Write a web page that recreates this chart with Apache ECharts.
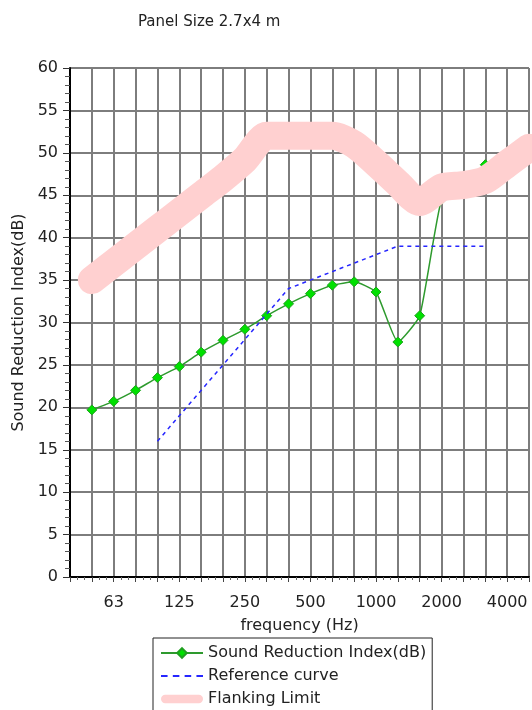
<!DOCTYPE html>
<html>
<head>
<meta charset="utf-8">
<script src="https://cdn.jsdelivr.net/npm/echarts@6/dist/echarts.min.js"></script>
<style>
  html, body { margin: 0; padding: 0; background: #fff; }
  #chart { width: 532px; height: 710px; }
</style>
</head>
<body>
<div id="chart"></div>
<script>
// third-octave bands along the x axis (40 Hz .. 5000 Hz)
const bands = ["40", "50", "63", "80", "100", "125", "160", "200", "250", "315", "400",
  "500", "630", "800", "1000", "1250", "1600", "2000", "2500", "3150", "4000", "5000"];
const tickLabels = ["63", "125", "250", "500", "1000", "2000", "4000"];

// Sound Reduction Index (dB)
const sriFreq = ["50", "63", "80", "100", "125", "160", "200", "250", "315", "400",
  "500", "630", "800", "1000", "1250", "1600", "2000", "2500", "3150"];
const sriValues = [19.7, 20.7, 22.0, 23.5, 24.8, 26.5, 27.9, 29.2, 30.8, 32.2,
  33.4, 34.4, 34.8, 33.6, 27.7, 30.8, 44.5, 46.5, 48.6];

// Reference curve (shifted)
const refFreq = ["100", "125", "160", "200", "250", "315", "400", "500", "630", "800",
  "1000", "1250", "1600", "2000", "2500", "3150"];
const refValues = [16, 19, 22, 25, 28, 31, 34, 35, 36, 37, 38, 39, 39, 39, 39, 39];

// Flanking limit
const flankFreq = ["50", "63", "80", "100", "125", "160", "200", "250", "315", "400",
  "500", "630", "800", "1000", "1250", "1600", "2000", "2500", "3150", "4000", "5000"];
const flankValues = [35, 37, 39, 41, 43, 45, 47, 49.2, 52, 52,
  52, 52, 51, 48.8, 46.4, 44.2, 45.9, 46.2, 46.8, 48.7, 50.6];

const toPoints = (freqs, vals) => freqs.map((f, i) => [bands.indexOf(f), vals[i]]);

const chart = echarts.init(document.getElementById("chart"), null, { renderer: "canvas" });
const font = "DejaVu Sans, Verdana, sans-serif";

// legend icons: short dashes, and a thick rounded bar
const dashIcon = "path://M0,0h5v1.4h-5zM9,0h5v1.4h-5zM18,0h5v1.4h-5zM27,0h5v1.4h-5z";
const barIcon = "path://M4,0h32a4,4 0 0 1 0,8h-32a4,4 0 0 1 0,-8z";

chart.setOption({
  animation: false,
  textStyle: { fontFamily: font },
  title: {
    text: "Panel Size 2.7x4 m",
    left: 133,
    top: 10,
    textStyle: { fontSize: 15, fontWeight: "normal", color: "#222", fontFamily: font },
  },
  grid: { left: 70, right: 2, top: 68, bottom: 133 },
  legend: {
    orient: "vertical",
    left: 153,
    top: 638,
    height: 100,
    itemWidth: 42,
    itemHeight: 12,
    itemGap: 7,
    padding: [7, 6, 10, 7],
    borderColor: "#222",
    borderWidth: 1,
    backgroundColor: "#fff",
    textStyle: { fontSize: 16, color: "#222", fontFamily: font },
    data: [
      { name: "Sound Reduction Index(dB)" },
      { name: "Reference curve", icon: dashIcon },
      { name: "Flanking Limit", icon: barIcon },
    ],
  },
  xAxis: {
    type: "value",
    min: 0,
    max: bands.length - 1,
    interval: 1,
    name: "frequency (Hz)",
    nameLocation: "middle",
    nameGap: 41,
    nameTextStyle: { fontSize: 16, color: "#222" },
    axisLine: { show: true, lineStyle: { color: "#000", width: 2 } },
    axisTick: { show: true, length: 5, lineStyle: { color: "#444" } },
    minorTick: { show: true, splitNumber: 3, length: 3, lineStyle: { color: "#666" } },
    axisLabel: {
      fontSize: 16,
      color: "#222",
      margin: 18,
      formatter: (v) => (tickLabels.includes(bands[v]) ? bands[v] : ""),
    },
    splitLine: { show: true, lineStyle: { color: "#7d7d7d", width: 2 } },
  },
  yAxis: {
    type: "value",
    min: 0,
    max: 60,
    interval: 5,
    name: "Sound Reduction Index(dB)",
    nameLocation: "middle",
    nameGap: 40,
    nameTextStyle: { fontSize: 16, color: "#222" },
    axisLine: { show: true, lineStyle: { color: "#000", width: 2 } },
    axisTick: { show: true, length: 7, lineStyle: { color: "#333" } },
    minorTick: { show: true, splitNumber: 5, length: 5, lineStyle: { color: "#555" } },
    axisLabel: { fontSize: 16, color: "#222", margin: 12 },
    splitLine: { show: true, lineStyle: { color: "#7d7d7d", width: 2 } },
  },
  series: [
    {
      name: "Sound Reduction Index(dB)",
      type: "line",
      z: 2,
      smooth: 0.15,
      symbol: "diamond",
      symbolSize: 10,
      data: toPoints(sriFreq, sriValues),
      lineStyle: { color: "#2e9a2e", width: 1.5 },
      itemStyle: { color: "#00e000", borderColor: "#1fa01f", borderWidth: 1 },
    },
    {
      name: "Reference curve",
      type: "line",
      z: 3,
      symbol: "none",
      data: toPoints(refFreq, refValues),
      lineStyle: { color: "#2626ff", width: 1.5, type: [4, 4] },
      itemStyle: { color: "#2626ff" },
    },
    {
      name: "Flanking Limit",
      type: "line",
      z: 6,
      smooth: 0.25,
      symbol: "none",
      data: toPoints(flankFreq, flankValues),
      lineStyle: { color: "#ffd0d0", width: 28, cap: "round", join: "round" },
      itemStyle: { color: "#ffd0d0" },
    },
  ],
});
</script>
</body>
</html>
